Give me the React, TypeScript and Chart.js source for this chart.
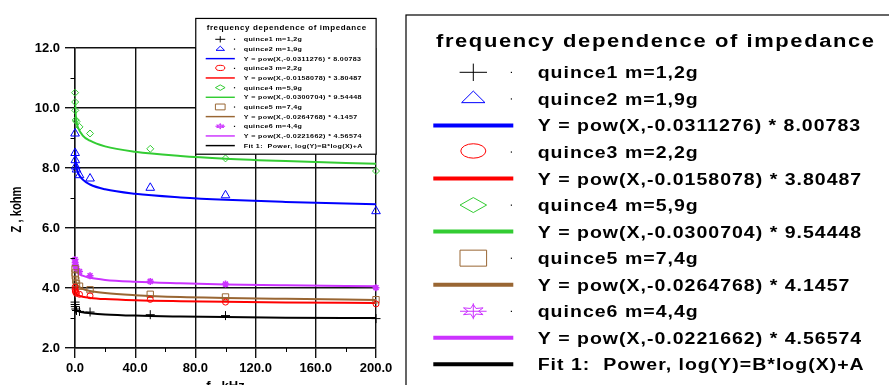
import React, { useEffect, useRef } from 'react';
import { Chart, registerables } from 'chart.js';
Chart.register(...registerables);

// ---------- data ----------
const freqKHz = [0.05, 0.1, 0.2, 0.5, 1, 3, 10, 50, 100, 200];
const quince1 = [3.53, 3.45, 3.38, 3.3, 3.25, 3.22, 3.2, 3.11, 3.08, 2.98];
const quince2 = [9.15, 8.5, 8.26, 8.05, 7.95, 7.76, 7.65, 7.34, 7.09, 6.56];
const quince3 = [4.03, 3.95, 3.9, 3.85, 3.82, 3.79, 3.74, 3.62, 3.53, 3.47];
const quince4 = [10.51, 10.2, 9.92, 9.6, 9.55, 9.37, 9.15, 8.64, 8.32, 7.9];
const quince5 = [4.64, 4.5, 4.4, 4.26, 4.14, 4.06, 3.94, 3.79, 3.7, 3.61];
const quince6 = [4.95, 4.85, 4.78, 4.72, 4.65, 4.55, 4.41, 4.22, 4.13, 4.01];

const fitFreqKHz = [0.1, 0.2, 0.5, 1, 2, 5, 10, 20, 40, 70, 100, 140, 200];
const fit1 = [3.37, 3.34, 3.29, 3.26, 3.23, 3.19, 3.16, 3.12, 3.08, 3.05, 3.03, 3.01, 3.0];
const fit2 = [8.6, 8.42, 8.18, 8.01, 7.84, 7.62, 7.45, 7.29, 7.14, 7.02, 6.94, 6.87, 6.79];
const fit3 = [3.95, 3.9, 3.85, 3.8, 3.76, 3.71, 3.67, 3.63, 3.59, 3.56, 3.54, 3.52, 3.5];
const fit4 = [10.23, 10.02, 9.75, 9.54, 9.35, 9.09, 8.91, 8.72, 8.54, 8.4, 8.31, 8.23, 8.14];
const fit5 = [4.41, 4.33, 4.22, 4.15, 4.07, 3.97, 3.9, 3.83, 3.76, 3.7, 3.67, 3.64, 3.6];
const fit6 = [4.8, 4.73, 4.64, 4.57, 4.5, 4.41, 4.34, 4.27, 4.21, 4.16, 4.12, 4.09, 4.06];

const seriesLabels = ['quince1 m=1,2g', 'quince2 m=1,9g', 'quince3 m=2,2g', 'quince4 m=5,9g', 'quince5 m=7,4g', 'quince6 m=4,4g'];
const fitLabels = [
  'Fit 1:  Power, log(Y)=B*log(X)+A',
  'Y = pow(X,-0.0311276) * 8.00783',
  'Y = pow(X,-0.0158078) * 3.80487',
  'Y = pow(X,-0.0300704) * 9.54448',
  'Y = pow(X,-0.0264768) * 4.1457',
  'Y = pow(X,-0.0221662) * 4.56574',
];
const legendTitle = 'frequency dependence of impedance';
const xTitle = 'f , kHz';
const yTitle = 'Z , kohm';
const xMinorTicks = [20, 60, 100, 140, 180];
const yMinorTicks = [3, 5, 7, 9, 11];

// ---------- styles ----------
const seriesValues = [quince1, quince2, quince3, quince4, quince5, quince6];
const fitValues = [fit1, fit2, fit3, fit4, fit5, fit6];
const colors = ['#000000', '#0000ff', '#ff0000', '#33cc33', '#996633', '#cc33ff'];
const markers = ['cross', 'triangle', 'circle', 'rectRot', 'rect', 'star'];
const markerRadius = [4.5, 5, 3, 3.5, 4.5, 3.5];

const FONT = '"Liberation Sans", Arial, Helvetica, sans-serif';

const legendGeom: Record<string, { w: number; h: number; dy: number }> = {
  cross: { w: 13.7, h: 8.7, dy: 0 },
  triangle: { w: 11.7, h: 5.8, dy: -2 },
  circle: { w: 12.5, h: 7.2, dy: -1 },
  rectRot: { w: 13.3, h: 7.5, dy: 0 },
  rect: { w: 13.3, h: 8, dy: 0 },
  star: { w: 13.3, h: 8, dy: 0 },
};

function drawMarker(ctx: CanvasRenderingContext2D, kind: string, cx: number, cy: number, w: number, h: number) {
  ctx.beginPath();
  if (kind === 'cross') {
    ctx.moveTo(cx - w, cy); ctx.lineTo(cx + w, cy);
    ctx.moveTo(cx, cy - h); ctx.lineTo(cx, cy + h);
  } else if (kind === 'triangle') {
    ctx.moveTo(cx, cy - h); ctx.lineTo(cx + w, cy + h); ctx.lineTo(cx - w, cy + h); ctx.closePath();
  } else if (kind === 'circle') {
    ctx.ellipse(cx, cy, w, h, 0, 0, Math.PI * 2);
  } else if (kind === 'rectRot') {
    ctx.moveTo(cx, cy - h); ctx.lineTo(cx + w, cy); ctx.lineTo(cx, cy + h); ctx.lineTo(cx - w, cy); ctx.closePath();
  } else if (kind === 'rect') {
    ctx.rect(cx - w, cy - h, 2 * w, 2 * h);
  } else if (kind === 'star') {
    for (let k = 0; k < 12; k++) {
      const a = -Math.PI / 2 + (k * Math.PI) / 6;
      const r = k % 2 === 0 ? 0.85 : 0.4;
      const px = cx + Math.cos(a) * w * r;
      const py = cy + Math.sin(a) * h * r;
      if (k === 0) ctx.moveTo(px, py); else ctx.lineTo(px, py);
    }
    ctx.closePath();
    ctx.moveTo(cx - w, cy); ctx.lineTo(cx + w, cy);
    ctx.moveTo(cx, cy - h); ctx.lineTo(cx, cy + h);
  }
  ctx.stroke();
}

function setLS(ctx: any, v: string) {
  if ('letterSpacing' in ctx) ctx.letterSpacing = v;
}

function fillStretched(ctx: CanvasRenderingContext2D, text: string, x: number, y: number, sx: number, ls: number) {
  ctx.save();
  ctx.translate(x, y);
  ctx.scale(sx, 1);
  setLS(ctx, `${ls / sx}px`);
  ctx.fillText(text, 0, 0);
  setLS(ctx, '0px');
  ctx.restore();
}

function drawLegend(ctx: CanvasRenderingContext2D, ox: number, oy: number, s: number) {
  ctx.save();
  ctx.translate(ox, oy);
  ctx.scale(s, s);
  ctx.fillStyle = '#ffffff';
  ctx.fillRect(-27.3, -57.3, 495.5, 373);
  ctx.strokeStyle = '#000000';
  ctx.lineWidth = 1.2 / s;
  ctx.strokeRect(-27.3, -57.3, 495.5, 373);

  ctx.fillStyle = '#000000';
  ctx.textBaseline = 'alphabetic';
  ctx.textAlign = 'left';
  ctx.font = `bold 18px ${FONT}`;
  fillStretched(ctx, legendTitle, 2.7, -25.6, 1.22, 1.6);

  const rows: { type: string; i: number }[] = [{ type: 'sym', i: 0 }];
  for (let i = 1; i < seriesLabels.length; i++) {
    rows.push({ type: 'sym', i });
    rows.push({ type: 'line', i });
  }
  rows.push({ type: 'line', i: 0 });

  const step = 26.55;
  rows.forEach((r, k) => {
    const y = k * step;
    if (r.type === 'line') {
      ctx.strokeStyle = colors[r.i];
      ctx.lineWidth = 4;
      ctx.beginPath();
      ctx.moveTo(0, y); ctx.lineTo(80, y);
      ctx.stroke();
    } else {
      const g = legendGeom[markers[r.i]];
      ctx.strokeStyle = colors[r.i];
      ctx.lineWidth = 1 / s;
      drawMarker(ctx, markers[r.i], 40, y + g.dy, g.w, g.h);
      ctx.fillStyle = '#000000';
      ctx.fillRect(77.5, y - 0.5 / s, 1.2 / s, 1.2 / s);
    }
    ctx.fillStyle = '#000000';
    ctx.font = `bold 16px ${FONT}`;
    fillStretched(ctx, r.type === 'line' ? fitLabels[r.i] : seriesLabels[r.i], 104.4, y + 6, 1.22, 1.0);
  });
  ctx.restore();
}

const overlayPlugin = {
  id: 'overlay',
  afterDraw(chart: any) {
    const ctx: CanvasRenderingContext2D = chart.ctx;
    const xs = chart.scales.x;
    const ys = chart.scales.y;
    const area = chart.chartArea;
    ctx.save();
    ctx.strokeStyle = '#000000';
    ctx.lineWidth = 1;
    ctx.beginPath();
    xMinorTicks.forEach((v) => {
      const px = Math.round(xs.getPixelForValue(v)) + 0.5;
      ctx.moveTo(px, area.bottom); ctx.lineTo(px, area.bottom + 4);
    });
    yMinorTicks.forEach((v) => {
      const py = Math.round(ys.getPixelForValue(v)) + 0.5;
      ctx.moveTo(area.left, py); ctx.lineTo(area.left - 4.5, py);
    });
    ctx.stroke();

    // axis titles
    ctx.fillStyle = '#000000';
    ctx.font = `bold 14px ${FONT}`;
    ctx.textBaseline = 'alphabetic';
    ctx.save();
    ctx.translate(20.7, 209.5);
    ctx.rotate(-Math.PI / 2);
    const m = ctx.measureText(yTitle).width;
    ctx.scale(46 / m, 1);
    ctx.textAlign = 'center';
    ctx.fillText(yTitle, 0, 0);
    ctx.restore();

    ctx.font = `bold 13px ${FONT}`;
    ctx.textAlign = 'center';
    ctx.fillText(xTitle, (area.left + area.right) / 2, 390);
    ctx.restore();

    drawLegend(ctx, 205.7, 39.3, 0.364);
    drawLegend(ctx, 433.3, 72.3, 1);
  },
};

export default function App() {
  const ref = useRef<HTMLCanvasElement | null>(null);
  useEffect(() => {
    if (!ref.current) return;
    const datasets: any[] = [];
    seriesValues.forEach((vals, i) => {
      datasets.push({
        label: seriesLabels[i],
        data: freqKHz.map((x, k) => ({ x, y: vals[k] })),
        showLine: false,
        pointStyle: markers[i],
        pointRadius: markerRadius[i],
        pointBorderColor: colors[i],
        pointBackgroundColor: 'rgba(0,0,0,0)',
        pointBorderWidth: i === 5 ? 1.6 : 1,
        clip: false,
        order: 0,
      });
    });
    fitValues.forEach((vals, i) => {
      datasets.push({
        label: fitLabels[i],
        data: fitFreqKHz.map((x, k) => ({ x, y: vals[k] })),
        showLine: true,
        borderColor: colors[i],
        borderWidth: 2,
        pointRadius: 0,
        cubicInterpolationMode: 'monotone',
        fill: false,
        order: 1,
      });
    });

    const tickFont = { family: FONT, size: 13, weight: 'bold' as const };
    const gridStyle = { color: '#111111', lineWidth: 1.4, tickLength: 10, tickColor: '#111111' };
    const chart = new Chart(ref.current, {
      type: 'scatter',
      data: { datasets },
      options: {
        animation: false,
        responsive: false,
        maintainAspectRatio: false,
        layout: { padding: { left: 0, right: 513, top: 48, bottom: 7 } },
        plugins: { legend: { display: false }, tooltip: { enabled: false }, title: { display: false } },
        scales: {
          x: {
            type: 'linear',
            min: 0,
            max: 200,
            ticks: {
              stepSize: 40,
              autoSkip: false,
              maxRotation: 0,
              padding: 3,
              color: '#000000',
              font: tickFont,
              callback: (v: any) => Number(v).toFixed(1),
            },
            grid: gridStyle,
            border: { color: '#111111', width: 1.4 },
            afterFit: (s: any) => { s.height = 30; },
          },
          y: {
            type: 'linear',
            min: 2,
            max: 12,
            ticks: {
              stepSize: 2,
              padding: 5,
              color: '#000000',
              font: tickFont,
              callback: (v: any) => Number(v).toFixed(1),
            },
            grid: gridStyle,
            border: { color: '#111111', width: 1.4 },
            afterFit: (s: any) => { s.width = 75; },
          },
        },
      },
      plugins: [overlayPlugin],
    } as any);
    return () => chart.destroy();
  }, []);

  return (
    <div style={{ position: 'fixed', left: 0, top: 0, width: 889, height: 385, background: '#ffffff' }}>
      <canvas ref={ref} width={889} height={385} style={{ width: 889, height: 385, display: 'block' }} />
    </div>
  );
}
